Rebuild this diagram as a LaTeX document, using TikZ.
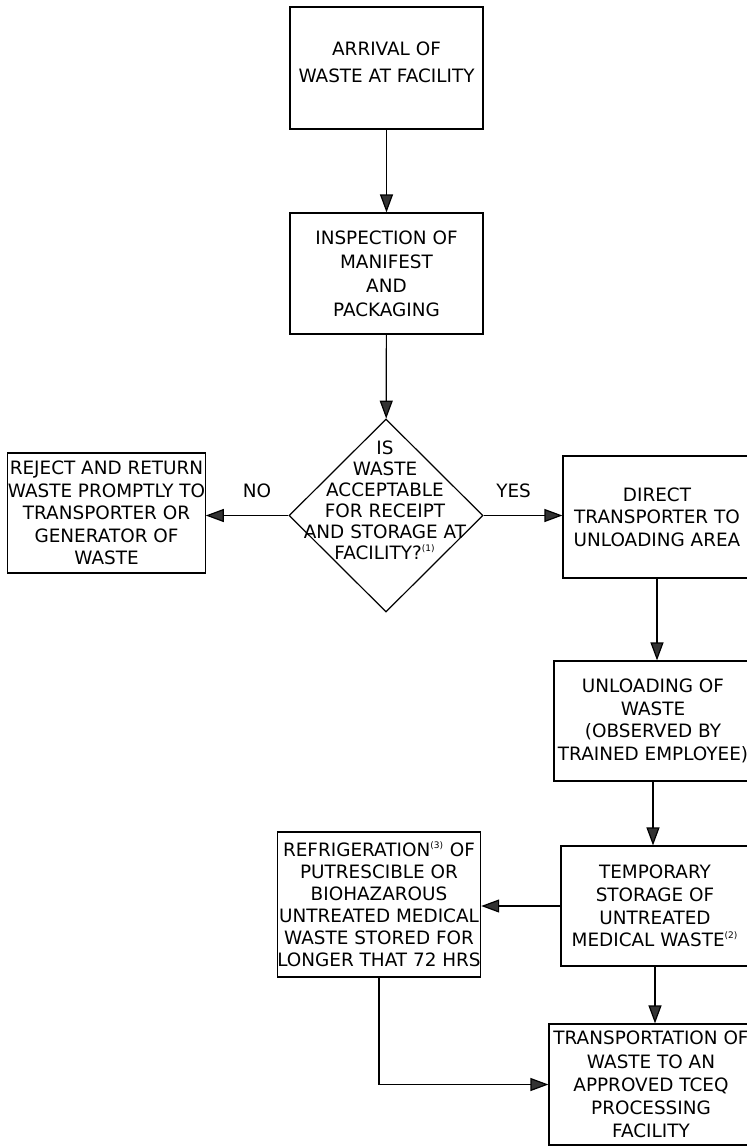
\documentclass[tikz,border=0pt]{standalone}
\usepackage{fontspec}
\setmainfont{DejaVu Sans}
\usetikzlibrary{arrows.meta,shapes.geometric}
\newcommand{\fnmark}[1]{\textsuperscript{\fontsize{4.5}{5}\selectfont(#1)}}
\begin{document}
\begin{tikzpicture}[x=0.5pt,y=-0.5pt,>={Triangle[length=9pt,width=6.5pt,fill=black!80]},
    every node/.style={font=\fontsize{9.2}{11.3}\selectfont},
    box/.style={draw,line width=0.6pt,align=center,inner sep=0pt},
    decision/.style={draw,diamond,line width=0.6pt,inner sep=0pt,minimum width=97pt,minimum height=96.5pt},
    flow/.style={->,line width=0.6pt}]
    \useasboundingbox (0,0) rectangle (746,1146);
    % main column
    \node[box,minimum width=96.5pt,minimum height=61pt,font=\fontsize{9.2}{13.5}\selectfont](arrival)at(386.5,68){ARRIVAL OF\\WASTE AT FACILITY\\[-7.5pt]};
    \node[box,minimum width=96.5pt,minimum height=60.5pt,font=\fontsize{9.2}{12}\selectfont](inspect)at(386.5,273.5){INSPECTION OF\\MANIFEST\\AND\\PACKAGING};
    \node[decision](query)at(386,515.5){};
    \node[align=center,font=\fontsize{9.2}{10.5}\selectfont](querytext)at(385,500){IS\\WASTE\\ACCEPTABLE\\FOR RECEIPT\\AND STORAGE AT\\FACILITY?\fnmark{1}};
    \node[box,minimum width=98.5pt,minimum height=60pt](reject)at(106.5,513){REJECT AND RETURN\\WASTE PROMPTLY TO\\TRANSPORTER OR\\GENERATOR OF\\WASTE};
    % right column
    \node[box,minimum width=94pt,minimum height=61pt](direct)at(657,517){DIRECT\\TRANSPORTER TO\\UNLOADING AREA};
    \node[box,minimum width=99pt,minimum height=60pt](unload)at(653,721){UNLOADING OF\\WASTE\\(OBSERVED BY\\TRAINED EMPLOYEE)};
    \node[box,minimum width=94pt,minimum height=60pt](storage)at(655,906){TEMPORARY\\STORAGE OF\\UNTREATED\\MEDICAL WASTE\fnmark{2}};
    \node[box,minimum width=99pt,minimum height=72.5pt,font=\fontsize{9.2}{11}\selectfont](refrig)at(379,904.5){REFRIGERATION\fnmark{3} OF\\PUTRESCIBLE OR\\BIOHAZAROUS\\UNTREATED MEDICAL\\WASTE STORED FOR\\LONGER THAT 72 HRS};
    \node[box,minimum width=102pt,minimum height=60.5pt,font=\fontsize{9.2}{11.6}\selectfont](transport)at(651,1084.5){TRANSPORTATION OF\\WASTE TO AN\\APPROVED TCEQ\\PROCESSING\\FACILITY};
    % connectors
    \draw[flow](arrival)--(inspect);
    \draw[flow](inspect)--(query);
    \draw[flow](query.west)--node[pos=0.38,above=5pt]{NO}(query.west-|reject.east);
    \draw[flow](query.east)--node[pos=0.38,above=5pt]{YES}(query.east-|direct.west);
    \draw[flow](direct.south)--(direct.south|-unload.north);
    \draw[flow](unload.south)--(unload.south|-storage.north);
    \draw[flow](storage.west)--(storage.west-|refrig.east);
    \draw[flow](storage.south)--(storage.south|-transport.north);
    \draw[flow](refrig.south)|-(transport.west);
\end{tikzpicture}
\end{document}
